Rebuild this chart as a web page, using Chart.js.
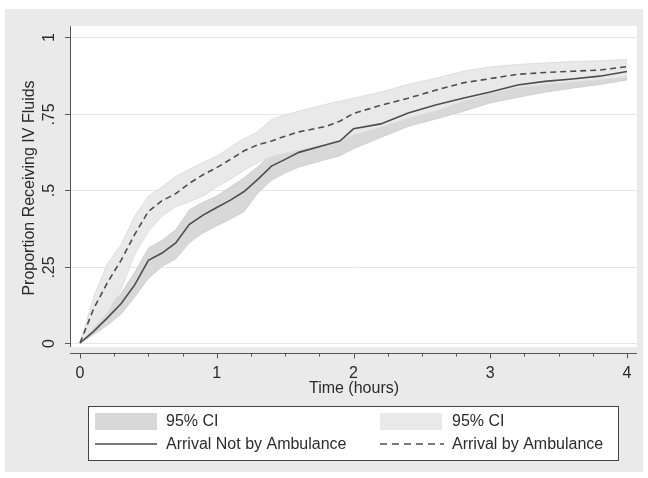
<!DOCTYPE html>
<html>
<head>
<meta charset="utf-8">
<script src="https://cdn.jsdelivr.net/npm/chart.js@4/dist/chart.umd.min.js"></script>
<style>
  html, body { margin: 0; padding: 0; background: #fff; }
  #wrap { width: 648px; height: 478px; }
</style>
</head>
<body>
<div id="wrap"><canvas id="c" width="648" height="478"></canvas></div>
<script>
// ======= Data =======
const hours = [0, 0.1, 0.2, 0.3, 0.4, 0.5, 0.6, 0.7, 0.8, 0.9, 1.0, 1.1, 1.2, 1.3, 1.4, 1.5,
  1.6, 1.8, 1.9, 2.0, 2.2, 2.4, 2.6, 2.8, 3.0, 3.2, 3.4, 3.6, 3.8, 4.0];

// Arrival Not by Ambulance (solid)
const notAmbEst = [0, 0.038, 0.082, 0.128, 0.19, 0.27, 0.294, 0.327, 0.388, 0.418, 0.443, 0.467,
  0.495, 0.535, 0.578, 0.60, 0.623, 0.648, 0.66, 0.70, 0.716, 0.752, 0.778, 0.80, 0.82, 0.843,
  0.855, 0.863, 0.872, 0.887];
const notAmbLo = [0, 0.028, 0.058, 0.095, 0.15, 0.212, 0.25, 0.275, 0.328, 0.36, 0.383, 0.405,
  0.43, 0.49, 0.532, 0.556, 0.575, 0.60, 0.612, 0.635, 0.672, 0.708, 0.732, 0.757, 0.785, 0.803,
  0.82, 0.833, 0.845, 0.86];
const notAmbHi = [0, 0.068, 0.11, 0.162, 0.23, 0.31, 0.335, 0.37, 0.435, 0.46, 0.48, 0.51,
  0.54, 0.575, 0.618, 0.64, 0.663, 0.69, 0.70, 0.742, 0.755, 0.79, 0.815, 0.835, 0.852, 0.872,
  0.882, 0.89, 0.898, 0.908];

// Arrival by Ambulance (dashed)
const ambEst = [0, 0.112, 0.197, 0.27, 0.355, 0.43, 0.465, 0.488, 0.522, 0.55, 0.573, 0.60,
  0.628, 0.648, 0.66, 0.676, 0.69, 0.708, 0.725, 0.75, 0.777, 0.80, 0.826, 0.85, 0.864, 0.878,
  0.884, 0.888, 0.892, 0.903];
const ambLo = [0, 0.05, 0.10, 0.175, 0.29, 0.365, 0.415, 0.445, 0.462, 0.48, 0.51, 0.535,
  0.565, 0.59, 0.61, 0.62, 0.63, 0.65, 0.662, 0.68, 0.705, 0.735, 0.757, 0.79, 0.815, 0.835,
  0.845, 0.853, 0.86, 0.87];
const ambHi = [0, 0.15, 0.26, 0.32, 0.413, 0.48, 0.51, 0.544, 0.568, 0.59, 0.61, 0.64,
  0.668, 0.69, 0.73, 0.746, 0.757, 0.78, 0.79, 0.80, 0.82, 0.845, 0.865, 0.888, 0.902, 0.91,
  0.915, 0.92, 0.922, 0.926];

const yTicks = [0, 0.25, 0.5, 0.75, 1];
const yTickLabels = ['0', '.25', '.5', '.75', '1'];
const xTicks = [0, 1, 2, 3, 4];
const xMinorStep = 0.25;

const legendLabels = ['95% CI', 'Arrival Not by Ambulance', '95% CI', 'Arrival by Ambulance'];

// ======= Style =======
const FONT = '"Liberation Sans", Arial, Helvetica, sans-serif';
const TXT = '#2b2b2b';
const AXIS = '#555';
const BG_OUT = '#eaeaea';
const CI_NOT = '#d8d8d8';
const CI_AMB = '#e9e9e9';
const LINE_CLR = '#4d4d4d';

const pts = arr => arr.map((v, i) => ({ x: hours[i], y: v }));

// ======= Frame / axes / legend plugin =======
const statFrame = {
  id: 'statFrame',
  beforeDraw(chart) {
    const { ctx, chartArea: a, scales: { y } } = chart;
    ctx.save();
    ctx.fillStyle = '#fff';
    ctx.fillRect(0, 0, chart.width, chart.height);
    ctx.fillStyle = BG_OUT;
    ctx.fillRect(5, 9, 638, 463);
    ctx.fillStyle = '#fff';
    ctx.fillRect(a.left, a.top, a.right - a.left, a.bottom - a.top);
    // gridlines
    ctx.strokeStyle = '#e6e6e6';
    ctx.lineWidth = 1;
    yTicks.forEach(v => {
      const py = Math.round(y.getPixelForValue(v)) + 0.5;
      ctx.beginPath(); ctx.moveTo(a.left, py); ctx.lineTo(a.right, py); ctx.stroke();
    });
    ctx.restore();
  },
  afterDraw(chart) {
    const { ctx, chartArea: a, scales: { x, y } } = chart;
    ctx.save();
    ctx.strokeStyle = AXIS;
    ctx.lineWidth = 1;
    // y axis
    ctx.beginPath(); ctx.moveTo(a.left + 0.5, a.top); ctx.lineTo(a.left + 0.5, a.bottom); ctx.stroke();
    const xAxisY = 353.5;
    ctx.beginPath(); ctx.moveTo(a.left, xAxisY); ctx.lineTo(a.right, xAxisY); ctx.stroke();

    ctx.fillStyle = TXT;
    ctx.font = '16px ' + FONT;
    ctx.textAlign = 'center';
    ctx.textBaseline = 'middle';
    yTicks.forEach((v, i) => {
      const py = Math.round(y.getPixelForValue(v)) + 0.5;
      ctx.beginPath(); ctx.moveTo(a.left - 5, py); ctx.lineTo(a.left, py); ctx.stroke();
      ctx.save();
      ctx.translate(50, py);
      ctx.rotate(-Math.PI / 2);
      ctx.fillText(yTickLabels[i], 0, 0);
      ctx.restore();
    });
    for (let t = 0; t <= 4.0001; t += xMinorStep) {
      const px = Math.round(x.getPixelForValue(t)) + 0.5;
      const major = Math.abs(t - Math.round(t)) < 1e-6;
      ctx.beginPath(); ctx.moveTo(px, xAxisY); ctx.lineTo(px, xAxisY + (major ? 5 : 3)); ctx.stroke();
    }
    xTicks.forEach(t => {
      ctx.fillText(String(t), x.getPixelForValue(t), 374);
    });
    // axis titles
    ctx.fillText('Time (hours)', 354, 389);
    ctx.save();
    ctx.translate(30, 188);
    ctx.rotate(-Math.PI / 2);
    ctx.fillText('Proportion Receiving IV Fluids', 0, 0);
    ctx.restore();

    // legend
    ctx.fillStyle = '#fff';
    ctx.fillRect(88, 406, 530, 54);
    ctx.strokeStyle = '#444';
    ctx.strokeRect(88.5, 406.5, 530, 54);
    ctx.fillStyle = CI_NOT;
    ctx.fillRect(95, 413, 62, 17);
    ctx.fillStyle = CI_AMB;
    ctx.fillRect(380, 413, 62, 17);
    ctx.strokeStyle = LINE_CLR;
    ctx.lineWidth = 1.5;
    ctx.beginPath(); ctx.moveTo(95, 444); ctx.lineTo(157, 444); ctx.stroke();
    ctx.setLineDash([7, 5]);
    ctx.beginPath(); ctx.moveTo(380, 444); ctx.lineTo(444, 444); ctx.stroke();
    ctx.setLineDash([]);
    ctx.fillStyle = TXT;
    ctx.textAlign = 'left';
    ctx.fillText(legendLabels[0], 166, 422);
    ctx.fillText(legendLabels[1], 166, 445);
    ctx.fillText(legendLabels[2], 452, 422);
    ctx.fillText(legendLabels[3], 452, 445);
    ctx.restore();
  }
};

// ======= Chart =======
const X0 = 80, PX_PER_HOUR = 136.75, Y0 = 343, PX_PER_UNIT = 306;
const area = { left: 70, top: 26, right: 637, bottom: 347 };

new Chart(document.getElementById('c'), {
  type: 'line',
  data: {
    datasets: [
      { data: pts(notAmbLo), borderColor: '#cfcfcf', borderWidth: 1, pointRadius: 0, fill: false, order: 4 },
      { data: pts(notAmbHi), borderColor: '#cfcfcf', borderWidth: 1, pointRadius: 0, fill: '-1', backgroundColor: CI_NOT, order: 4 },
      { data: pts(ambLo), borderColor: '#dedede', borderWidth: 1, pointRadius: 0, fill: false, order: 3 },
      { data: pts(ambHi), borderColor: '#dedede', borderWidth: 1, pointRadius: 0, fill: '-1', backgroundColor: CI_AMB, order: 3 },
      { data: pts(notAmbEst), borderColor: LINE_CLR, borderWidth: 1.6, pointRadius: 0, fill: false, order: 2 },
      { data: pts(ambEst), borderColor: LINE_CLR, borderWidth: 1.6, borderDash: [6, 4], pointRadius: 0, fill: false, order: 1 }
    ]
  },
  options: {
    responsive: false,
    animation: false,
    events: [],
    layout: { padding: { left: area.left, top: area.top, right: 648 - area.right, bottom: 478 - area.bottom } },
    plugins: { legend: { display: false }, tooltip: { enabled: false } },
    scales: {
      x: { type: 'linear', display: false,
           min: (area.left - X0) / PX_PER_HOUR, max: (area.right - X0) / PX_PER_HOUR },
      y: { type: 'linear', display: false,
           min: (Y0 - area.bottom) / PX_PER_UNIT, max: (Y0 - area.top) / PX_PER_UNIT }
    }
  },
  plugins: [statFrame]
});
</script>
</body>
</html>
